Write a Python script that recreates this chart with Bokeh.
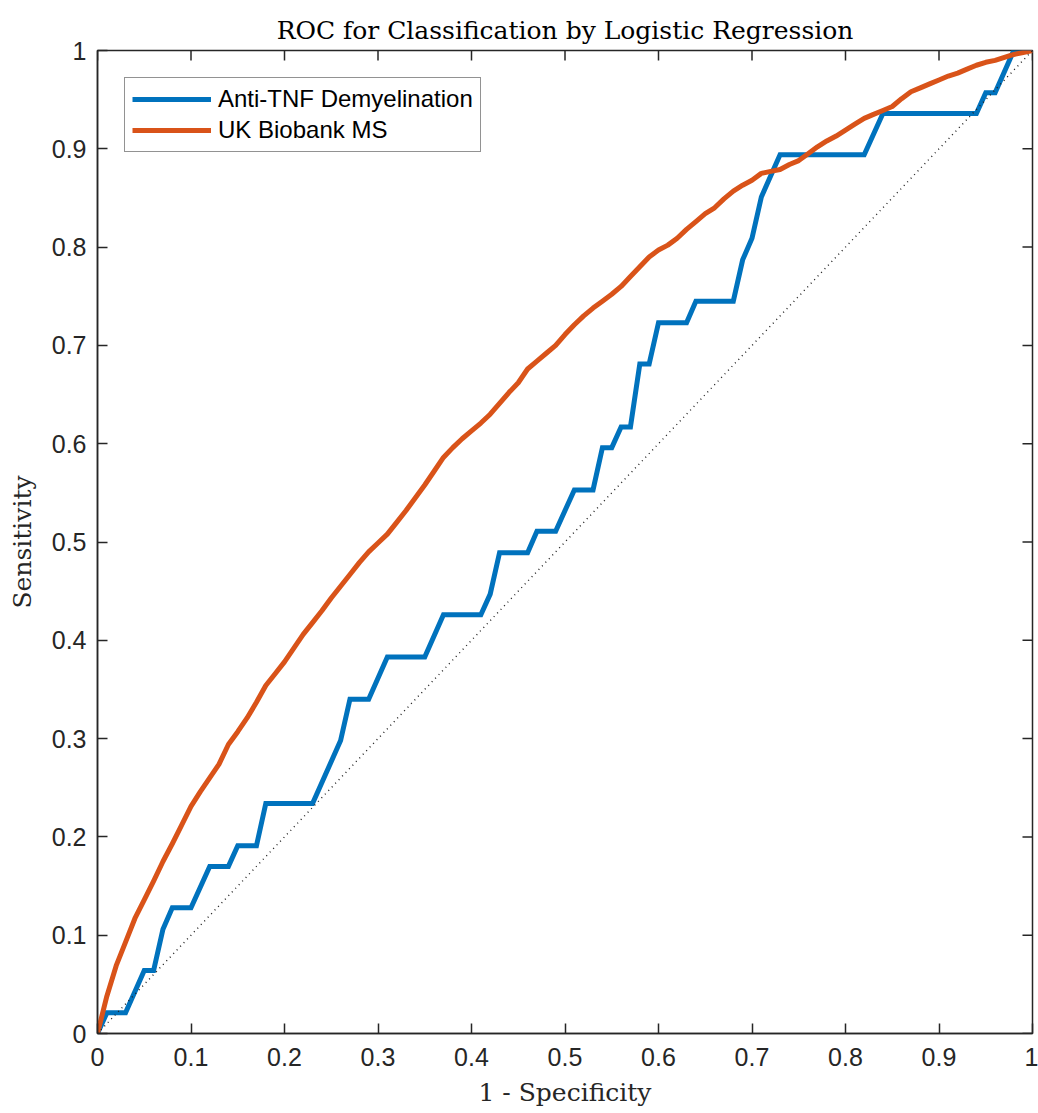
import math
from bokeh.plotting import figure
from bokeh.models import Range1d, FixedTicker, Legend, LegendItem
from bokeh.embed import file_html
from bokeh.resources import INLINE

# ---- data ----
anti_tnf_fpr = [0, 0.01, 0.03, 0.05, 0.06, 0.07, 0.08, 0.10, 0.12, 0.14, 0.15, 0.17, 0.18, 0.23,
                0.26, 0.27, 0.29, 0.31, 0.35, 0.37, 0.41, 0.42, 0.43, 0.46, 0.47, 0.49, 0.51, 0.53,
                0.54, 0.55, 0.56, 0.57, 0.58, 0.59, 0.60, 0.63, 0.64, 0.68, 0.69, 0.70, 0.71, 0.73,
                0.82, 0.84, 0.94, 0.95, 0.96, 0.98, 1.0]
anti_tnf_tpr = [0, 0.021, 0.021, 0.064, 0.064, 0.106, 0.128, 0.128, 0.170, 0.170, 0.191, 0.191, 0.234, 0.234,
                0.298, 0.340, 0.340, 0.383, 0.383, 0.426, 0.426, 0.447, 0.489, 0.489, 0.511, 0.511, 0.553, 0.553,
                0.596, 0.596, 0.617, 0.617, 0.681, 0.681, 0.723, 0.723, 0.745, 0.745, 0.787, 0.809, 0.851, 0.894,
                0.894, 0.936, 0.936, 0.957, 0.957, 1.0, 1.0]

ukb_fpr = [0.00, 0.01, 0.02, 0.03, 0.04, 0.05, 0.06, 0.07, 0.08, 0.09,
           0.10, 0.11, 0.12, 0.13, 0.14, 0.15, 0.16, 0.17, 0.18, 0.19,
           0.20, 0.21, 0.22, 0.23, 0.24, 0.25, 0.26, 0.27, 0.28, 0.29,
           0.30, 0.31, 0.32, 0.33, 0.34, 0.35, 0.36, 0.37, 0.38, 0.39,
           0.40, 0.41, 0.42, 0.43, 0.44, 0.45, 0.46, 0.47, 0.48, 0.49,
           0.50, 0.51, 0.52, 0.53, 0.54, 0.55, 0.56, 0.57, 0.58, 0.59,
           0.60, 0.61, 0.62, 0.63, 0.64, 0.65, 0.66, 0.67, 0.68, 0.69,
           0.70, 0.71, 0.72, 0.73, 0.74, 0.75, 0.76, 0.77, 0.78, 0.79,
           0.80, 0.81, 0.82, 0.83, 0.84, 0.85, 0.86, 0.87, 0.88, 0.89,
           0.90, 0.91, 0.92, 0.93, 0.94, 0.95, 0.96, 0.97, 0.98, 0.99, 1.00]
ukb_tpr = [0.000, 0.038, 0.069, 0.093, 0.117, 0.136, 0.155, 0.175, 0.193, 0.212,
           0.231, 0.246, 0.260, 0.274, 0.294, 0.307, 0.321, 0.337, 0.354, 0.366,
           0.378, 0.392, 0.406, 0.418, 0.430, 0.443, 0.455, 0.467, 0.479, 0.490,
           0.499, 0.508, 0.520, 0.532, 0.545, 0.558, 0.572, 0.586, 0.596, 0.605,
           0.613, 0.621, 0.630, 0.641, 0.652, 0.662, 0.676, 0.684, 0.692, 0.700,
           0.711, 0.721, 0.730, 0.738, 0.745, 0.752, 0.760, 0.770, 0.780, 0.790,
           0.797, 0.802, 0.809, 0.818, 0.826, 0.834, 0.840, 0.849, 0.857, 0.863,
           0.868, 0.875, 0.877, 0.879, 0.884, 0.888, 0.895, 0.902, 0.908, 0.913,
           0.919, 0.925, 0.931, 0.935, 0.939, 0.943, 0.951, 0.958, 0.962, 0.966,
           0.970, 0.974, 0.977, 0.981, 0.985, 0.988, 0.990, 0.993, 0.996, 0.998, 1.000]

chance_x = [0, 1]
chance_y = [0, 1]

tick_values = [0, 0.1, 0.2, 0.3, 0.4, 0.5, 0.6, 0.7, 0.8, 0.9, 1]
tick_labels = ["0", "0.1", "0.2", "0.3", "0.4", "0.5", "0.6", "0.7", "0.8", "0.9", "1"]

series_names = ["Anti-TNF Demyelination", "UK Biobank MS"]
series_colors = ["#0072BD", "#D95319"]

title_text = "ROC for Classification by Logistic Regression"
x_label = "1 - Specificity"
y_label = "Sensitivity"

X_MIN, X_MAX = 0, 1
Y_MIN, Y_MAX = 0, 1

# ---- figure ----
AX = "#262626"
p = figure(width=1038, height=1113, output_backend="svg", toolbar_location=None,
           x_range=Range1d(X_MIN, X_MAX), y_range=Range1d(Y_MIN, Y_MAX),
           min_border_left=97, min_border_right=6, min_border_top=50, min_border_bottom=80)
p.background_fill_color = "white"
p.border_fill_color = "white"
p.outline_line_color = AX
p.outline_line_width = 1.5
p.grid.visible = False

p.title.text = title_text
p.title.align = "center"
p.title.text_font = "DejaVu Serif"
p.title.text_font_style = "normal"
p.title.text_font_size = "25px"
p.title.text_color = "black"
p.title.standoff = 12

overrides = {v: l for v, l in zip(tick_values, tick_labels)}

for ax in (p.xaxis[0], p.yaxis[0]):
    ax.ticker = FixedTicker(ticks=tick_values)
    ax.major_label_overrides = overrides
    ax.axis_line_color = AX
    ax.axis_line_width = 1.5
    ax.major_tick_line_color = AX
    ax.major_tick_line_width = 1.5
    ax.major_tick_in = 10
    ax.major_tick_out = 0
    ax.minor_tick_line_color = None
    ax.major_label_text_font = "Liberation Sans"
    ax.major_label_text_font_size = "25px"
    ax.major_label_text_color = AX
    ax.axis_label_text_font = "DejaVu Serif"
    ax.axis_label_text_font_style = "normal"
    ax.axis_label_text_font_size = "25px"
    ax.axis_label_text_color = AX

p.xaxis[0].axis_label = x_label
p.yaxis[0].axis_label = y_label
p.xaxis[0].major_label_standoff = 14
p.xaxis[0].axis_label_standoff = 9
p.yaxis[0].major_label_standoff = 11
p.yaxis[0].axis_label_standoff = 12

# inward ticks on the top and right edges of the box (clipped to the frame)
p.scatter(tick_values, [Y_MAX] * len(tick_values), marker="dash", size=20, angle=math.pi / 2,
          line_color=AX, line_width=1.5)
p.scatter([X_MAX] * len(tick_values), tick_values, marker="dash", size=20,
          line_color=AX, line_width=1.5)

r1 = p.line(anti_tnf_fpr, anti_tnf_tpr, line_color=series_colors[0], line_width=5, line_join="miter")
r2 = p.line(ukb_fpr, ukb_tpr, line_color=series_colors[1], line_width=5, line_join="round")
p.line(chance_x, chance_y, line_color="#202020", line_width=1.4, line_dash="1 4")

legend = Legend(items=[LegendItem(label=series_names[0], renderers=[r1]),
                       LegendItem(label=series_names[1], renderers=[r2])],
                location="top_left")
legend.margin = 27
legend.padding = 7
legend.spacing = 3
legend.glyph_width = 79
legend.glyph_height = 24
legend.label_height = 24
legend.label_standoff = 7
legend.label_text_font = "Liberation Sans"
legend.label_text_font_size = "24px"
legend.label_text_color = "black"
legend.border_line_color = AX
legend.border_line_width = 1
legend.background_fill_color = "white"
legend.background_fill_alpha = 1
p.add_layout(legend, "center")

open("out.html", "w").write(file_html(p, INLINE))
